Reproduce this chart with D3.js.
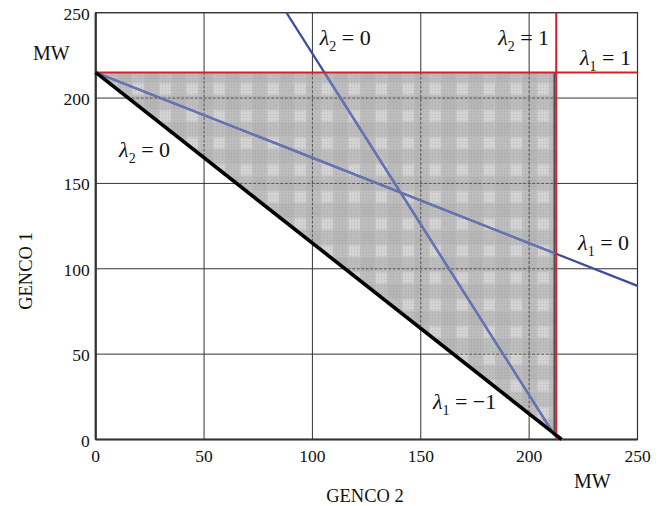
<!DOCTYPE html>
<html><head><meta charset="utf-8">
<script src="https://cdn.jsdelivr.net/npm/d3@7"></script>
<style>body{margin:0;background:#fff}svg{display:block}text{font-family:"Liberation Serif","Times New Roman",serif;fill:#111}</style>
</head><body>
<svg id="c" width="669" height="506"></svg>
<script>
const xTicks=[0,50,100,150,200,250];
const yTicks=[0,50,100,150,200,250];
const region=[[0,215],[212.5,215],[212.5,2.5]];
const blackLine=[[0,215],[215,0]];
const redH=[[0,215],[250,215]];
const redV=[[212.5,0],[212.5,250]];
const blueL1=[[0,215],[250,90]];   // lambda1 = 0
const blueL2=[[88,250],[212,2]];   // lambda2 = 0
const labels=[
 {g:"2",v:"0",x:103.4,y:231},
 {g:"2",v:"1",x:185.7,y:231},
 {g:"1",v:"1",x:223.5,y:219.3},
 {g:"2",v:"0",x:10.8,y:165.5},
 {g:"1",v:"0",x:222.6,y:111},
 {g:"1",v:"\u22121",x:155.6,y:17.9}
];

const svg=d3.select("#c");
const x=d3.scaleLinear().domain([0,250]).range([95.7,637.5]);
const y=d3.scaleLinear().domain([0,250]).range([439.5,12.7]);
const line=d3.line().x(d=>x(d[0])).y(d=>y(d[1]));

// plaid pattern
const defs=svg.append("defs");
const pat=defs.append("pattern").attr("id","chk").attr("patternUnits","userSpaceOnUse")
 .attr("width",27).attr("height",27).attr("x",x(0)+2).attr("y",y(215)+3);
pat.append("rect").attr("width",27).attr("height",27).attr("fill","#b5b5b5");
pat.append("rect").attr("x",7).attr("y",0).attr("width",13).attr("height",27).attr("fill","#fff").attr("opacity",0.1);
pat.append("rect").attr("x",0).attr("y",7).attr("width",27).attr("height",13).attr("fill","#fff").attr("opacity",0.1);
pat.append("rect").attr("x",8).attr("y",8).attr("width",11).attr("height",11).attr("fill","#fff").attr("opacity",0.25);
const dots=defs.append("pattern").attr("id","dots").attr("patternUnits","userSpaceOnUse").attr("width",3).attr("height",3);
dots.append("rect").attr("width",1).attr("height",1).attr("fill","#8a8a8a");
defs.append("clipPath").attr("id","reg").append("path").attr("d",line(region)+"Z");

// grid
const g=svg.append("g");
g.selectAll(".vx").data(xTicks).join("line").attr("x1",d=>x(d)).attr("x2",d=>x(d)).attr("y1",y(0)).attr("y2",y(250)).attr("stroke","#333").attr("stroke-width",1);
g.selectAll(".hy").data(yTicks).join("line").attr("x1",x(0)).attr("x2",x(250)).attr("y1",d=>y(d)).attr("y2",d=>y(d)).attr("stroke","#333").attr("stroke-width",1);

// region
svg.append("path").attr("d",line(region)+"Z").attr("fill","url(#chk)");
svg.append("path").attr("d",line(region)+"Z").attr("fill","url(#dots)").attr("opacity",0.3);
const gc=svg.append("g").attr("clip-path","url(#reg)");
gc.selectAll(".vx").data(xTicks).join("line").attr("x1",d=>x(d)).attr("x2",d=>x(d)).attr("y1",y(0)).attr("y2",y(250)).attr("stroke","#555").attr("stroke-dasharray","3,1.5");
gc.selectAll(".hy").data(yTicks).join("line").attr("x1",x(0)).attr("x2",x(250)).attr("y1",d=>y(d)).attr("y2",d=>y(d)).attr("stroke","#555").attr("stroke-dasharray","3,1.5");
svg.append("line").attr("x1",x(212.5)-2).attr("x2",x(212.5)-2).attr("y1",y(215)).attr("y2",y(2.5)).attr("stroke","#333").attr("stroke-width",1.2);

// frame
svg.append("rect").attr("x",x(0)).attr("y",y(250)).attr("width",x(250)-x(0)).attr("height",y(0)-y(250)).attr("fill","none").attr("stroke","#333").attr("stroke-width",1.2);
svg.append("line").attr("x1",x(0)).attr("x2",x(0)).attr("y1",y(0)).attr("y2",y(250)).attr("stroke","#333").attr("stroke-width",2.2);
svg.append("line").attr("x1",x(0)).attr("x2",x(250)).attr("y1",y(0)).attr("y2",y(0)).attr("stroke","#333").attr("stroke-width",2.2);

// blue lines
[blueL1,blueL2].forEach(l=>{
  svg.append("path").attr("d",line(l)).attr("stroke","#3c4d9c").attr("stroke-width",2.2).attr("fill","none");
  svg.append("path").attr("d",line(l)).attr("stroke","#6775b3").attr("stroke-width",2.2).attr("fill","none").attr("clip-path","url(#reg)");
});
// red lines
[redH,redV].forEach(l=>svg.append("path").attr("d",line(l)).attr("stroke","#d4202c").attr("stroke-width",2).attr("fill","none"));
// black line
svg.append("path").attr("d",line(blackLine)).attr("transform","translate(1.5,0)").attr("stroke","#777").attr("stroke-width",2).attr("fill","none");
svg.append("path").attr("d",line(blackLine)).attr("stroke","#000").attr("stroke-width",3.5).attr("fill","none");

// ticks
svg.selectAll(".yt").data(yTicks).join("text").attr("x",x(0)-6).attr("y",d=>y(d)+7).attr("text-anchor","end").attr("font-size",17.5).text(d=>d);
svg.selectAll(".xt").data(xTicks).join("text").attr("x",d=>x(d)).attr("y",462).attr("text-anchor","middle").attr("font-size",17.5).text(d=>d);
svg.append("text").attr("x",33).attr("y",60).attr("font-size",20).text("MW");
svg.append("text").attr("x",574).attr("y",488).attr("font-size",20).text("MW");
svg.append("text").attr("x",365).attr("y",502).attr("text-anchor","middle").attr("font-size",18.5).text("GENCO 2");
svg.append("text").attr("transform","translate(32,271) rotate(-90)").attr("text-anchor","middle").attr("font-size",18.5).text("GENCO 1");

// lambda labels
labels.forEach(d=>{
  const t=svg.append("text").attr("x",x(d.x)).attr("y",y(d.y)).attr("font-size",22);
  t.append("tspan").attr("font-style","italic").text("\u03bb");
  t.append("tspan").attr("font-size",14).attr("dy",6).text(d.g);
  t.append("tspan").attr("dy",-6).text(" = "+d.v);
});
</script>
</body></html>
